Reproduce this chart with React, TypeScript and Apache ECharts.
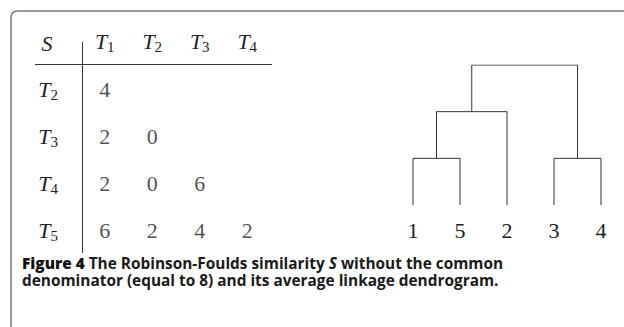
import React, { useEffect, useRef } from "react";
import * as echarts from "echarts";

// Table: Robinson-Foulds similarity S (lower triangle)
const colTrees = ["1", "2", "3", "4"];
const rowTrees = ["2", "3", "4", "5"];
const simRows = [
  [4],
  [2, 0],
  [2, 0, 6],
  [6, 2, 4, 2],
];

// Dendrogram (average linkage)
const leafOrder = ["1", "5", "2", "3", "4"];
const mergeLeft = ["1", "3", "1+5", "1+5+2"];
const mergeRight = ["5", "4", "2", "3+4"];
const mergeLevel = [1, 1, 2, 3];

const captionLine1 = "{b|Figure 4} The Robinson-Foulds similarity {i|S} without the common";
const captionLine2 = "denominator (equal to 8) and its average linkage dendrogram.";

const SERIF = "'Liberation Serif', 'Times New Roman', serif";
const SANS = "'Open Sans', 'Noto Sans', sans-serif";

const tRich = {
  t: { fontFamily: SERIF, fontStyle: "italic", fontSize: 22, lineHeight: 26, color: "#222", verticalAlign: "middle" },
  s: { fontFamily: SERIF, fontSize: 15, lineHeight: 15, color: "#222", verticalAlign: "bottom" },
};

const CAP = 15.4;
const capStyle = (text: string, y: number) => ({
  type: "text",
  x: 22,
  y,
  style: {
    text,
    fontFamily: SANS,
    fontSize: CAP,
    fontWeight: "bold",
    lineHeight: 16,
    fill: "#1a1a1a",
    verticalAlign: "middle",
    rich: {
      b: { fontFamily: SANS, fontSize: CAP, lineHeight: 16, fontWeight: 800, fill: "#111" },
      i: { fontFamily: SANS, fontSize: CAP, lineHeight: 16, fontWeight: "bold", fontStyle: "italic", fill: "#1a1a1a" },
    },
  },
});

export default function App() {
  const ref = useRef<HTMLDivElement>(null);
  useEffect(() => {
    if (!ref.current) return;
    const chart = echarts.init(ref.current, null, { renderer: "svg" });

    const cellData: any[] = [];
    simRows.forEach((row, r) => row.forEach((v, c) => cellData.push([c, r, v])));

    const pos: Record<string, { x: number; h: number }> = {};
    leafOrder.forEach((l, i) => (pos[l] = { x: i, h: 0 }));
    const dendroSeries: any[] = mergeLeft.map((l, i) => {
      const a = pos[l];
      const b = pos[mergeRight[i]];
      const h = mergeLevel[i];
      pos[l + "+" + mergeRight[i]] = { x: (a.x + b.x) / 2, h };
      return {
        type: "line",
        xAxisIndex: 1,
        yAxisIndex: 1,
        symbol: "none",
        silent: true,
        lineStyle: { color: "#333", width: 1 },
        data: [
          [a.x, a.h],
          [a.x, h],
          [b.x, h],
          [b.x, b.h],
        ],
      };
    });

    chart.setOption({
      animation: false,
      grid: [
        { left: 81, top: 65.5, width: 190, height: 188 },
        { left: 413, top: 65, width: 188, height: 140 },
      ],
      xAxis: [
        {
          type: "category",
          gridIndex: 0,
          position: "top",
          data: colTrees,
          axisLine: { show: false },
          axisTick: { show: false },
          axisLabel: { interval: 0, margin: 11, formatter: (v: string) => `{t|T}{s|${v}}`, rich: tRich },
        },
        {
          type: "value",
          gridIndex: 1,
          min: 0,
          max: 4,
          interval: 1,
          axisLine: { show: false },
          axisTick: { show: false },
          splitLine: { show: false },
          axisLabel: {
            margin: 14,
            fontFamily: SERIF,
            fontSize: 22,
            color: "#222",
            formatter: (v: number) => leafOrder[v] ?? "",
          },
        },
      ],
      yAxis: [
        {
          type: "category",
          gridIndex: 0,
          inverse: true,
          data: rowTrees,
          axisLine: { show: false },
          axisTick: { show: false },
          axisLabel: { interval: 0, margin: 23, formatter: (v: string) => `{t|T}{s|${v}}`, rich: tRich },
        },
        {
          type: "value",
          gridIndex: 1,
          min: 0,
          max: 3,
          show: false,
        },
      ],
      series: [
        {
          type: "scatter",
          xAxisIndex: 0,
          yAxisIndex: 0,
          symbolSize: 0,
          silent: true,
          data: cellData,
          label: {
            show: true,
            position: "inside",
            formatter: (p: any) => String(p.value[2]),
            fontFamily: SERIF,
            fontSize: 22,
            color: "#222",
          },
        },
        ...dendroSeries,
      ],
      graphic: [
        {
          type: "rect",
          shape: { x: 11, y: 11, width: 800, height: 500, r: [6, 0, 0, 0] },
          style: { fill: "none", stroke: "#777", lineWidth: 1.5 },
          silent: true,
        },
        {
          type: "line",
          shape: { x1: 35, y1: 64.5, x2: 272, y2: 64.5 },
          style: { stroke: "#333", lineWidth: 1 },
        },
        {
          type: "line",
          shape: { x1: 82.5, y1: 42, x2: 82.5, y2: 253 },
          style: { stroke: "#333", lineWidth: 1 },
        },
        {
          type: "text",
          x: 47,
          y: 43,
          style: {
            text: "S",
            fontFamily: SERIF,
            fontStyle: "italic",
            fontSize: 22,
            fill: "#222",
            align: "center",
            verticalAlign: "middle",
          },
        },
        capStyle(captionLine1, 263),
        capStyle(captionLine2, 280),
      ],
    });
    return () => chart.dispose();
  }, []);
  return (
    <div
      ref={ref}
      style={{ position: "absolute", left: 0, top: 0, width: 624, height: 327, background: "#fff" }}
    />
  );
}
